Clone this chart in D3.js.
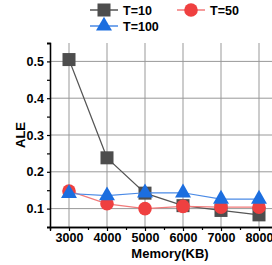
<!DOCTYPE html>
<html>
<head>
<meta charset="utf-8">
<script src="https://cdn.jsdelivr.net/npm/d3@7"></script>
<style>
  body { margin: 0; background: #fff; }
  svg { display: block; font-family: "Liberation Sans", Arial, sans-serif; font-weight: bold; }
</style>
</head>
<body>
<svg id="chart" width="272" height="265"></svg>
<script>
// chart data
const memory = [3000, 4000, 5000, 6000, 7000, 8000];
const t10 = [0.505, 0.238, 0.142, 0.108, 0.095, 0.083];
const t50 = [0.148, 0.113, 0.100, 0.106, 0.104, 0.104];
const t100 = [0.141, 0.135, 0.143, 0.143, 0.126, 0.126];
const yTicks = [0.1, 0.2, 0.3, 0.4, 0.5];

const series = [
    { name: "T=10", values: t10, color: "#4d4d4d", line: "#555", shape: "square" },
    { name: "T=50", values: t50, color: "#ef4040", line: "#f27a7a", shape: "circle" },
    { name: "T=100", values: t100, color: "#1c6edf", line: "#4a8ae6", shape: "triangle" }
];

let svg = d3.select("#chart");
let plotLeft = 50, plotTop = 43, plotBottom = 227;

// the plot runs past the right edge of the window, as in the original
let x = d3.scaleLinear().domain([2500, 8500]).range([plotLeft, plotLeft + 228]);
let y = d3.scaleLinear().domain([0.05, 0.55]).range([plotBottom, plotTop]);

// grid
let grid = svg.append("g");
grid.selectAll(".gx").data(memory).enter().append("line")
    .attr("x1", d => x(d)).attr("x2", d => x(d))
    .attr("y1", plotTop).attr("y2", plotBottom)
    .attr("stroke", "#999").attr("stroke-width", 1);
grid.selectAll(".gy").data(yTicks).enter().append("line")
    .attr("x1", plotLeft).attr("x2", 272)
    .attr("y1", d => y(d)).attr("y2", d => y(d))
    .attr("stroke", "#999").attr("stroke-width", 1);

// axes
let xAxis = d3.axisBottom(x).tickValues(memory).tickFormat(d3.format("d")).tickSize(4).tickPadding(2);
let xMinor = d3.axisBottom(x).tickValues(d3.range(3500, 8500, 1000)).tickFormat("").tickSize(3);
let yAxis = d3.axisLeft(y).tickValues(yTicks).tickFormat(d3.format(".1f")).tickSize(3).tickPadding(3);
let yMinor = d3.axisLeft(y).tickValues([0.05, 0.15, 0.25, 0.35, 0.45, 0.55]).tickFormat("").tickSize(3);

function styleAxis(g) {
    g.select(".domain").attr("stroke", "#000").attr("stroke-width", 1.3);
    g.selectAll(".tick line").attr("stroke", "#000").attr("stroke-width", 1.2);
    g.selectAll("text").attr("fill", "#000").style("font-size", "12.5px").style("font-weight", "bold");
}

svg.append("g").attr("transform", `translate(0,${plotBottom})`).call(xAxis).call(styleAxis);
svg.append("g").attr("transform", `translate(0,${plotBottom})`).call(xMinor).call(styleAxis);
svg.append("g").attr("transform", `translate(${plotLeft},0)`).call(yAxis).call(styleAxis);
svg.append("g").attr("transform", `translate(${plotLeft},0)`).call(yMinor).call(styleAxis);

// axis titles
svg.append("text").attr("x", 170).attr("y", 258).attr("text-anchor", "middle")
    .style("font-size", "13px").text("Memory(KB)");
svg.append("text").attr("transform", `translate(25,${(plotTop + plotBottom) / 2}) rotate(-90)`)
    .attr("text-anchor", "middle").style("font-size", "13px").text("ALE");

function drawMarker(g, shape, color, cx, cy) {
    if (shape === "square") {
        g.append("rect").attr("x", cx - 6.5).attr("y", cy - 6.5).attr("width", 13).attr("height", 13)
            .attr("fill", color);
    } else if (shape === "circle") {
        g.append("circle").attr("cx", cx).attr("cy", cy).attr("r", 6.8).attr("fill", color);
    } else {
        g.append("path").attr("d", d3.symbol().type(d3.symbolTriangle).size(110)())
            .attr("transform", `translate(${cx},${cy})`).attr("fill", color);
    }
}

let line = d3.line().x((d, i) => x(memory[i])).y(d => y(d));

series.forEach(s => {
    let g = svg.append("g");
    g.append("path").datum(s.values).attr("d", line)
        .attr("fill", "none").attr("stroke", s.line).attr("stroke-width", 1.2);
    s.values.forEach((v, i) => drawMarker(g, s.shape, s.color, x(memory[i]), y(v)));
});

// legend
const legendPos = [[90, 10], [177, 10], [90, 26]];
series.forEach((s, i) => {
    let [lx, ly] = legendPos[i];
    let g = svg.append("g");
    g.append("line").attr("x1", lx).attr("x2", lx + 28).attr("y1", ly).attr("y2", ly)
        .attr("stroke", s.line).attr("stroke-width", 1.5);
    drawMarker(g, s.shape, s.color, lx + 14, ly);
    g.append("text").attr("x", lx + 33).attr("y", ly + 4.5).style("font-size", "12.5px").text(s.name);
});
</script>
</body>
</html>
